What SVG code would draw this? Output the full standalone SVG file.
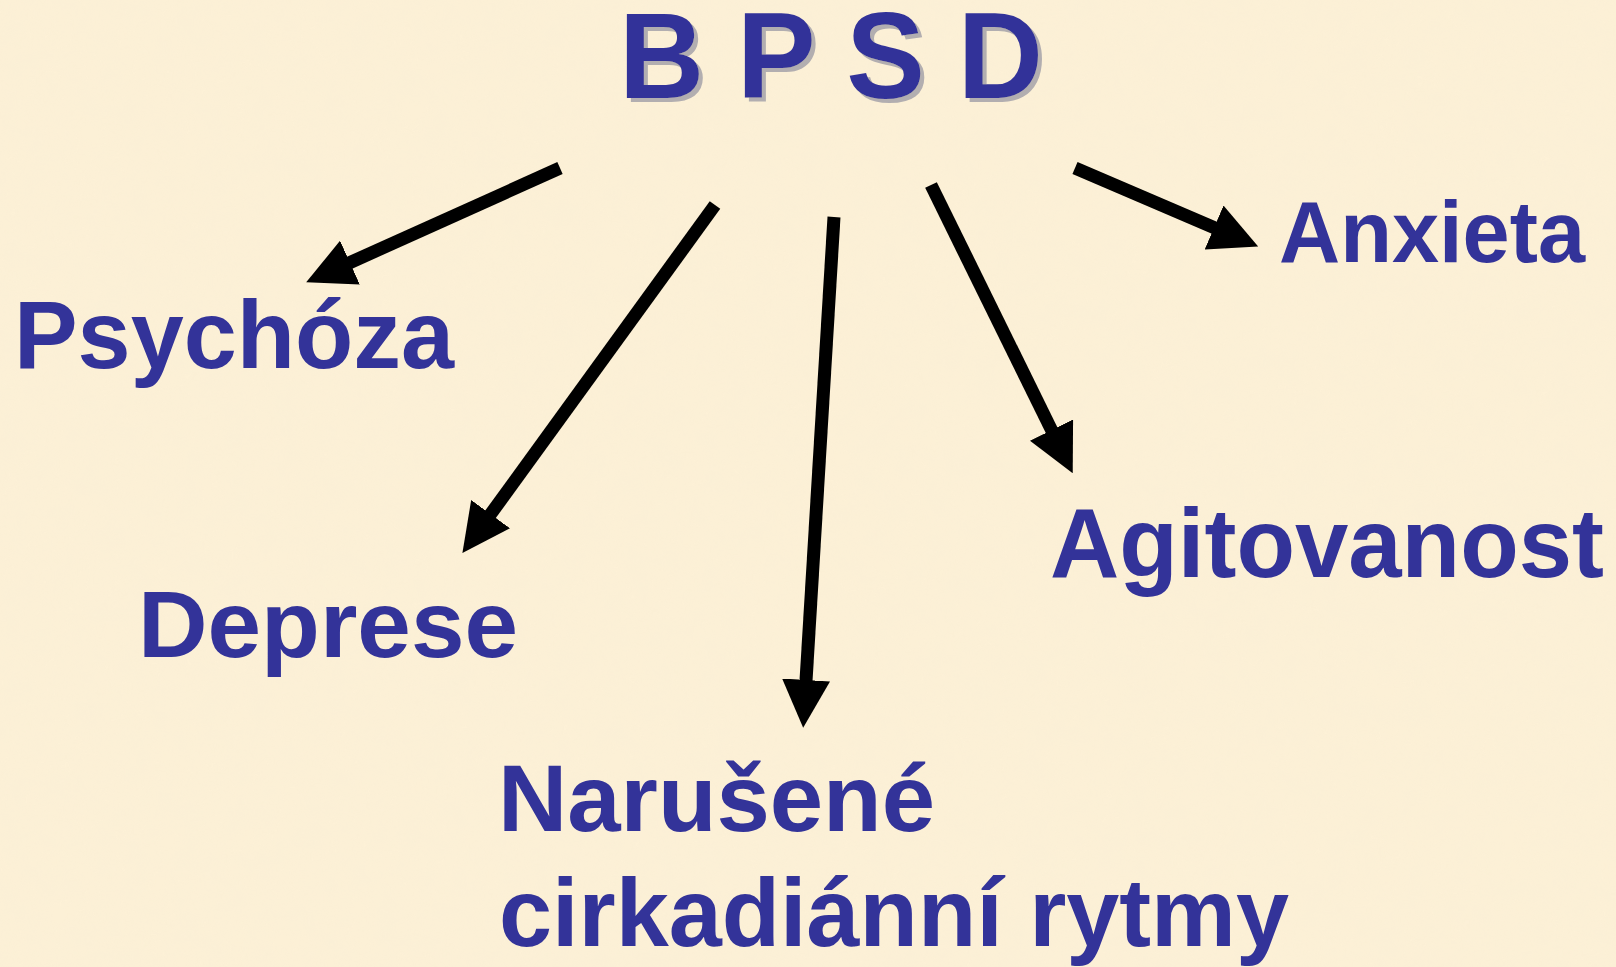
<svg xmlns="http://www.w3.org/2000/svg" width="1616" height="967" viewBox="0 0 1616 967">
<defs>
<style>
.t{font-family:"Liberation Sans",Arial,Helvetica,sans-serif;font-weight:bold;fill:#333399}
.c{stroke:#000;stroke-width:13;fill:none;stroke-linecap:butt}
</style>
<marker id="ah" markerUnits="userSpaceOnUse" markerWidth="48" markerHeight="48" refX="1" refY="23" orient="auto" viewBox="0 0 46 46">
<path d="M0,0 L46,23 L0,46 Z" fill="#000"/>
</marker>
<filter id="shadow" x="-5%" y="-10%" width="115%" height="130%">
<feFlood flood-color="#b2aeb0" result="f"/>
<feComposite in="f" in2="SourceAlpha" operator="in" result="s"/>
<feOffset in="s" dx="4" dy="4" result="o"/>
<feMerge><feMergeNode in="o"/><feMergeNode in="SourceGraphic"/></feMerge>
</filter>
<filter id="tex" x="0" y="0" width="100%" height="100%">
<feTurbulence type="fractalNoise" baseFrequency="0.04" numOctaves="3" seed="3"/>
<feColorMatrix type="matrix" values="0 0 0 0 0.93  0 0 0 0 0.85  0 0 0 0 0.68  0 0 0 0.45 -0.08"/>
</filter>
</defs>
<rect x="0" y="0" width="1616" height="967" fill="#fcf0d6"/>
<rect x="0" y="0" width="1616" height="967" filter="url(#tex)" opacity="0.6"/>
<g id="title">
<text class="t" x="619" y="98" font-size="122" textLength="424" lengthAdjust="spacingAndGlyphs" filter="url(#shadow)">B P S D</text>
</g>
<g id="connectors">
<line class="c" x1="560" y1="168" x2="349" y2="263" marker-end="url(#ah)"/>
<line class="c" x1="715" y1="205" x2="490" y2="515" marker-end="url(#ah)"/>
<line class="c" x1="834" y1="217" x2="806" y2="681" marker-end="url(#ah)"/>
<line class="c" x1="931" y1="185" x2="1052" y2="431" marker-end="url(#ah)"/>
<line class="c" x1="1075" y1="168" x2="1215" y2="228" marker-end="url(#ah)"/>
</g>
<g id="psychoza"><text class="t" x="14" y="368" font-size="97" textLength="440" lengthAdjust="spacingAndGlyphs">Psychóza</text></g>
<g id="anxieta"><text class="t" x="1279" y="262" font-size="87" textLength="306" lengthAdjust="spacingAndGlyphs">Anxieta</text></g>
<g id="deprese"><text class="t" x="138" y="657" font-size="94" textLength="380" lengthAdjust="spacingAndGlyphs">Deprese</text></g>
<g id="agitovanost"><text class="t" x="1050" y="577" font-size="98" textLength="554" lengthAdjust="spacingAndGlyphs">Agitovanost</text></g>
<g id="narusene"><text class="t" x="498" y="831" font-size="94" textLength="437" lengthAdjust="spacingAndGlyphs">Narušené</text>
<text class="t" x="499" y="946" font-size="96" textLength="790" lengthAdjust="spacingAndGlyphs">cirkadiánní rytmy</text></g>
</svg>
